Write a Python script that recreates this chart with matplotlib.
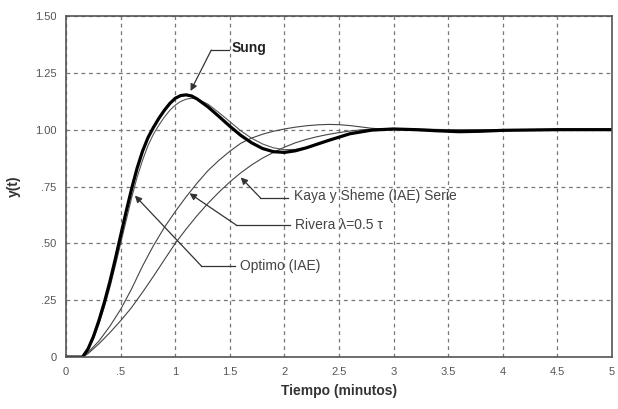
import numpy as np
import matplotlib
matplotlib.use('Agg')
import matplotlib.pyplot as plt

plt.rcParams['font.family'] = ['Liberation Sans', 'DejaVu Sans']

# tiempo (minutos)
t_sung = [0, 0.15, 0.2, 0.25, 0.3, 0.35, 0.4, 0.45, 0.5, 0.55, 0.6, 0.65, 0.7, 0.75, 0.8,
          0.85, 0.9, 0.95, 1.0, 1.05, 1.1, 1.15, 1.2, 1.3, 1.4, 1.5, 1.6, 1.7, 1.8, 1.9, 2.0,
          2.1, 2.2, 2.4, 2.6, 2.8, 3.0, 3.2, 3.4, 3.6, 3.8, 4.0, 4.5, 5.0]
y_sung = [0, 0, 0.035, 0.09, 0.16, 0.24, 0.33, 0.43, 0.535, 0.64, 0.74, 0.83, 0.905, 0.965, 1.01,
          1.05, 1.085, 1.115, 1.138, 1.15, 1.153, 1.148, 1.135, 1.10, 1.058, 1.015, 0.975, 0.942, 0.917, 0.903, 0.90,
          0.907, 0.92, 0.952, 0.982, 0.998, 1.003, 1.0, 0.995, 0.991, 0.993, 0.997, 1.0, 1.0]

t_opt = t_sung
y_opt = [0, 0, 0.03, 0.08, 0.145, 0.22, 0.305, 0.40, 0.50, 0.60, 0.70, 0.79, 0.865, 0.93, 0.98,
         1.02, 1.055, 1.085, 1.108, 1.124, 1.134, 1.138, 1.135, 1.112, 1.075, 1.035, 0.995, 0.962, 0.937, 0.92, 0.912,
         0.913, 0.922, 0.952, 0.98, 0.996, 1.002, 1.0, 0.997, 0.994, 0.995, 0.998, 1.0, 1.0]

t_riv = [0, 0.15, 0.2, 0.3, 0.4, 0.5, 0.6, 0.7, 0.8, 0.9, 1.0, 1.1, 1.2, 1.3, 1.4, 1.5, 1.6,
         1.7, 1.8, 1.9, 2.0, 2.1, 2.2, 2.3, 2.4, 2.5, 2.6, 2.7, 2.8, 3.0, 3.2, 3.5, 4.0, 4.5, 5.0]
y_riv = [0, 0, 0.02, 0.07, 0.135, 0.21, 0.30, 0.40, 0.49, 0.57, 0.64, 0.705, 0.765, 0.82, 0.865, 0.905, 0.94,
         0.963, 0.98, 0.993, 1.003, 1.011, 1.017, 1.021, 1.023, 1.022, 1.018, 1.012, 1.006, 1.0, 0.998, 0.998, 1.0, 1.0, 1.0]

t_kaya = t_riv
y_kaya = [0, 0, 0.015, 0.058, 0.107, 0.16, 0.218, 0.285, 0.355, 0.428, 0.50, 0.563, 0.622, 0.676, 0.725, 0.77, 0.81,
          0.845, 0.875, 0.90, 0.923, 0.942, 0.957, 0.969, 0.979, 0.987, 0.994, 0.999, 1.002, 1.004, 1.003, 1.0, 1.0, 1.0, 1.0]

xticks = [0, 0.5, 1, 1.5, 2, 2.5, 3, 3.5, 4, 4.5, 5]
xlabels = ['0', '.5', '1', '1.5', '2', '2.5', '3', '3.5', '4', '4.5', '5']
yticks = [0, 0.25, 0.5, 0.75, 1.0, 1.25, 1.5]
ylabels = ['0', '.25', '.50', '.75', '1.00', '1.25', '1.50']

fig = plt.figure(figsize=(6.18, 4.09), dpi=100)
ax = fig.add_axes([0.107, 0.127, 0.883, 0.834])

ax.plot(t_kaya, y_kaya, color='#444444', lw=0.8)
ax.plot(t_riv, y_riv, color='#444444', lw=0.8)
ax.plot(t_opt, y_opt, color='#555555', lw=0.8)
ax.plot(t_sung, y_sung, color='black', lw=2.3)

ax.set_xlim(0, 5)
ax.set_ylim(0, 1.5)
ax.set_xticks(xticks)
ax.set_xticklabels(xlabels)
ax.set_yticks(yticks)
ax.set_yticklabels(ylabels)
ax.tick_params(length=0, labelsize=8, colors='#555555', pad=7)
ax.grid(True, color='#777777', ls=(0, (3, 3)), lw=0.9)
for s in ax.spines.values():
    s.set_color('#555555')
    s.set_linewidth(1.2)

ax.set_xlabel('Tiempo (minutos)', fontsize=10, fontweight='bold', color='#333333', labelpad=5)
ax.set_ylabel('y(t)', fontsize=10, fontweight='bold', color='#333333', labelpad=10)

arrow = dict(arrowstyle='-|>', color='#333333', lw=0.9, mutation_scale=10, shrinkA=0, shrinkB=0)
leader = dict(color='#333333', lw=0.9)

# Sung
ax.plot([1.33, 1.49], [1.35, 1.35], **leader)
ax.annotate('', xy=(1.14, 1.17), xytext=(1.33, 1.35), arrowprops=arrow)
ax.text(1.52, 1.36, 'Sung', fontsize=10, fontweight='bold', color='#222222', va='center')

# Kaya y Sheme
ax.plot([1.78, 2.03], [0.70, 0.70], **leader)
ax.annotate('', xy=(1.60, 0.79), xytext=(1.78, 0.70), arrowprops=arrow)
ax.text(2.09, 0.71, 'Kaya y Sheme (IAE) Serie', fontsize=10, color='#444444', va='center')

# Rivera
ax.plot([1.56, 2.05], [0.58, 0.58], **leader)
ax.annotate('', xy=(1.13, 0.72), xytext=(1.56, 0.58), arrowprops=arrow)
ax.text(2.10, 0.58, 'Rivera \u03bb=0.5 \u03c4', fontsize=10, color='#444444', va='center')

# Optimo
ax.plot([1.24, 1.55], [0.40, 0.40], **leader)
ax.annotate('', xy=(0.63, 0.71), xytext=(1.24, 0.40), arrowprops=arrow)
ax.text(1.59, 0.40, 'Optimo (IAE)', fontsize=10, color='#444444', va='center')

fig.savefig('out.png', dpi=100)
